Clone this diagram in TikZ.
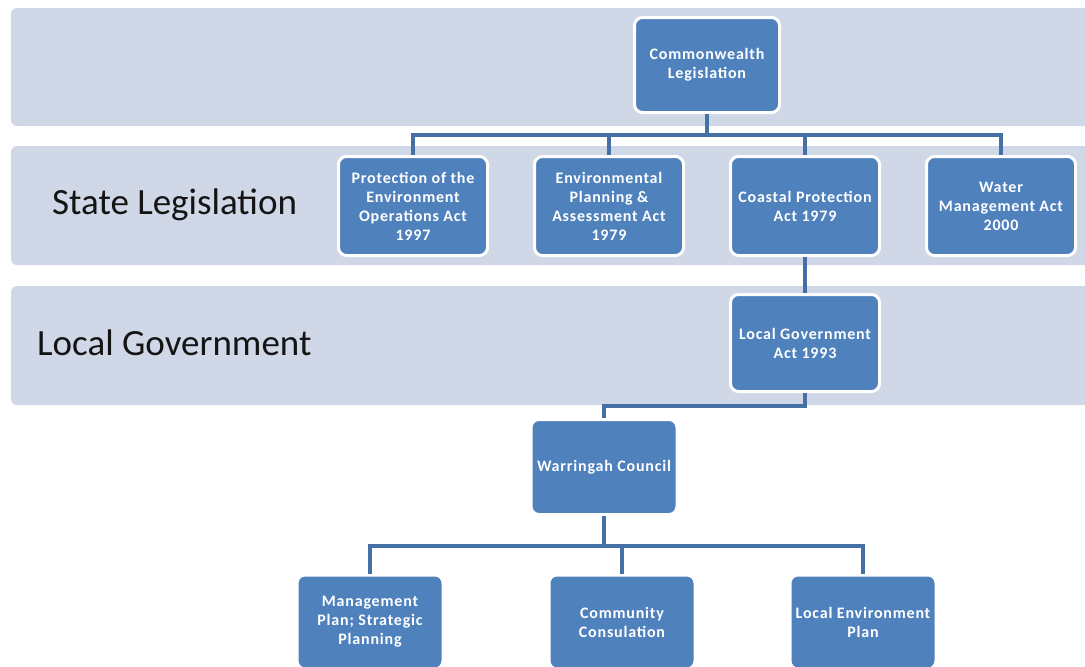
\documentclass[tikz,border=0pt]{standalone}
\usepackage{fontspec}
\setmainfont{Carlito}
\definecolor{bandcol}{RGB}{208,216,232}
\definecolor{boxcol}{RGB}{79,129,189}
\definecolor{conncol}{RGB}{68,112,166}
\definecolor{labcol}{RGB}{20,20,20}
\tikzset{
  band/.style={fill=bandcol, draw=none, rounded corners=6pt},
  orgbox/.style={rectangle, fill=boxcol, draw=white, line width=3pt, rounded corners=8pt,
    text=white, align=center, inner sep=2pt,
    font=\fontsize{16}{19}\selectfont\bfseries\addfontfeature{LetterSpace=5}},
  conn/.style={draw=conncol, line width=4pt},
  bandlabel/.style={anchor=west, text=labcol, inner sep=0pt, font=\fontsize{37}{42}\selectfont}
}
\begin{document}
\begin{tikzpicture}[x=1pt,y=-1pt]
\useasboundingbox (0,0) rectangle (1085,667);
\clip (0,0) rectangle (1085,667);
% bands
\path[band] (11,8) rectangle (1100,126);
\path[band] (11,146) rectangle (1100,265);
\path[band] (11,286) rectangle (1100,405);
% band labels
\node[bandlabel] (lstate) at (52,205) {State Legislation};
\node[bandlabel] (llocal) at (37,343) {Local Government};
% boxes
\node[orgbox, minimum width=145pt, minimum height=95pt] (cw) at (707,65) {Commonwealth\\Legislation};
\node[orgbox, minimum width=149pt, minimum height=99pt] (poe) at (413,206) {Protection of the\\Environment\\Operations Act\\1997};
\node[orgbox, minimum width=149pt, minimum height=99pt] (epa) at (609,206) {Environmental\\Planning \&\\Assessment Act\\1979};
\node[orgbox, minimum width=149pt, minimum height=99pt] (cp) at (805,206) {Coastal Protection\\Act 1979};
\node[orgbox, minimum width=149pt, minimum height=99pt] (wm) at (1001,206) {Water\\Management Act\\2000};
\node[orgbox, minimum width=149pt, minimum height=97pt] (lga) at (805,343) {Local Government\\Act 1993};
\node[orgbox, minimum width=146pt, minimum height=95pt] (wc) at (604,467) {Warringah Council};
\node[orgbox, minimum width=146pt, minimum height=94pt] (mp) at (370,622) {Management\\Plan; Strategic\\Planning};
\node[orgbox, minimum width=146pt, minimum height=94pt] (cc) at (622,622) {Community\\Consulation};
\node[orgbox, minimum width=146pt, minimum height=94pt] (lep) at (863,622) {Local Environment\\Plan};
% connectors
\draw[conn] (cw.south) -- ++(0,21) -| (poe.north);
\draw[conn] (cw.south) -- ++(0,21) -| (epa.north);
\draw[conn] (cw.south) -- ++(0,21) -| (cp.north);
\draw[conn] (cw.south) -- ++(0,21) -| (wm.north);
\draw[conn] (cp.south) -- (lga.north);
\draw[conn] (lga.south) -- ++(0,13) -| (wc.north);
\draw[conn] (wc.south) -- ++(0,30) -| (mp.north);
\draw[conn] (wc.south) -- ++(0,30) -| (cc.north);
\draw[conn] (wc.south) -- ++(0,30) -| (lep.north);
\end{tikzpicture}
\end{document}
